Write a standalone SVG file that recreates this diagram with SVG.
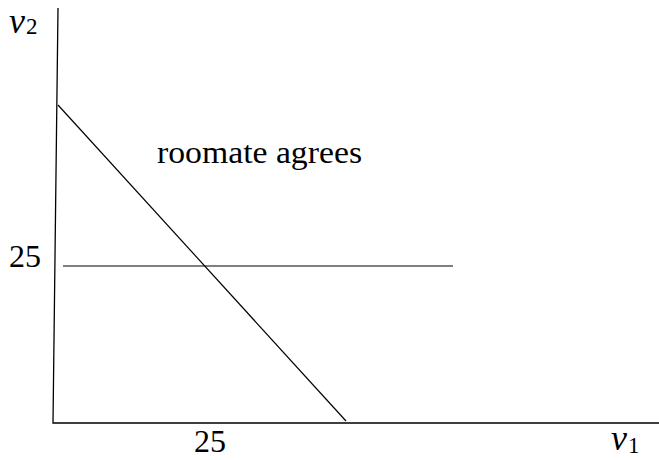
<svg xmlns="http://www.w3.org/2000/svg" width="659" height="460" viewBox="0 0 659 460">
<style>
.ax{stroke:#000;stroke-width:1.3;fill:none}
.ln{stroke:#000;stroke-width:1.2;fill:none}
.t{font-family:"Liberation Serif",serif;font-size:32px;fill:#000}
.i{font-style:italic;font-size:36px}
.s{font-size:23px}
</style>
<rect width="659" height="460" fill="#fff"/>
<g id="connectors">
<path class="ax" d="M58,8 L53,423 L659,423"/>
<path class="ln" d="M63,266 L453,266"/>
<path class="ln" d="M58,105 L346,421"/>
</g>
<g id="label-v2"><text class="t" x="9" y="33"><tspan class="i">v</tspan><tspan class="s" dx="1" dy="1">2</tspan></text></g>
<g id="label-25-y"><text class="t" x="9" y="267">25</text></g>
<g id="label-25-x"><text class="t" x="194" y="452">25</text></g>
<g id="label-v1"><text class="t" x="611" y="450"><tspan class="i">v</tspan><tspan class="s" dx="1" dy="3">1</tspan></text></g>
<g id="label-roomate"><text class="t" x="157" y="163" textLength="205" lengthAdjust="spacingAndGlyphs">roomate agrees</text></g>
</svg>
